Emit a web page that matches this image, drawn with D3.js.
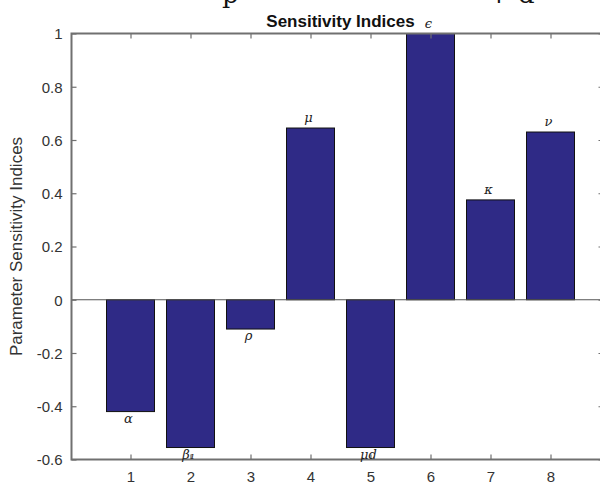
<!DOCTYPE html>
<html>
<head>
<meta charset="utf-8">
<script src="https://cdn.jsdelivr.net/npm/d3@7"></script>
<style>
  body { margin: 0; background: #fff; }
  svg { display: block; }
</style>
</head>
<body>
<div id="chart"></div>
<script>
// parameter index on the x axis
var params = [1, 2, 3, 4, 5, 6, 7, 8];
// sensitivity index of each parameter
var indices = [-0.42, -0.555, -0.11, 0.645, -0.555, 1.0, 0.375, 0.63];
// symbol written at the end of each bar
var symbols = ["α", "β₁", "ρ", "μ", "μd", "ϵ", "κ", "ν"];
var xTicks = [1, 2, 3, 4, 5, 6, 7, 8];
var yTicks = [-0.6, -0.4, -0.2, 0, 0.2, 0.4, 0.6, 0.8, 1];

var width = 600, height = 485;
var svg = d3.select("#chart").append("svg")
    .attr("width", width)
    .attr("height", height);

var x = d3.scaleLinear().domain([0, 9]).range([70.5, 610.5]);
var y = d3.scaleLinear().domain([-0.6, 1]).range([459.5, 33.5]);
var barW = x(0.8) - x(0);

var plotL = 71.5, plotR = 603.5, plotT = y(1), plotB = y(-0.6);
var axisCol = "#707070";

// cut-off text from the page above
svg.append("g")
    .style("font-family", "'DejaVu Serif', 'Liberation Serif', serif")
    .style("font-size", "26px")
    .attr("fill", "#111")
    .selectAll("text")
    .data([["p", 222], ["+ d", 488]])
    .enter().append("text")
    .attr("x", function(d) { return d[1]; })
    .attr("y", 3)
    .text(function(d) { return d[0]; });

// bars
svg.selectAll("rect.bar")
    .data(indices)
    .enter()
    .append("rect")
    .attr("class", "bar")
    .attr("x", function(d, i) { return x(params[i]) - barW / 2; })
    .attr("y", function(d) { return y(Math.max(0, d)); })
    .attr("width", barW)
    .attr("height", function(d) { return Math.abs(y(d) - y(0)); })
    .attr("fill", "#2f2a86")
    .attr("stroke", "#111")
    .attr("stroke-width", 1);

// zero baseline
svg.append("line")
    .attr("x1", plotL).attr("x2", plotR)
    .attr("y1", y(0)).attr("y2", y(0))
    .attr("stroke", "#555").attr("stroke-width", 1);

// frame
svg.append("rect")
    .attr("x", plotL)
    .attr("y", plotT)
    .attr("width", plotR - plotL)
    .attr("height", plotB - plotT)
    .attr("fill", "none")
    .attr("stroke", axisCol)
    .attr("stroke-width", 2);

// axes (ticks pointing inward)
var xAxis = svg.append("g")
    .attr("transform", "translate(0," + plotB + ")")
    .call(d3.axisBottom(x).tickValues(xTicks).tickSizeInner(-5).tickSizeOuter(0).tickPadding(12));
var xAxisTop = svg.append("g")
    .attr("transform", "translate(0," + plotT + ")")
    .call(d3.axisTop(x).tickValues(xTicks).tickSizeInner(-5).tickSizeOuter(0).tickFormat(""));
var yAxis = svg.append("g")
    .attr("transform", "translate(" + plotL + ",0)")
    .call(d3.axisLeft(y).tickValues(yTicks).tickSizeInner(-5).tickSizeOuter(0).tickPadding(9)
        .tickFormat(function(d) { return String(+d.toFixed(1)); }));
var yAxisRight = svg.append("g")
    .attr("transform", "translate(" + plotR + ",0)")
    .call(d3.axisRight(y).tickValues(yTicks).tickSizeInner(-5).tickSizeOuter(0).tickFormat(""));

[xAxis, xAxisTop, yAxis, yAxisRight].forEach(function(g) {
    g.select(".domain").remove();
    g.selectAll(".tick line").attr("stroke", axisCol).attr("stroke-width", 1.2);
    g.selectAll(".tick text")
        .style("font-family", "'Liberation Sans', Arial, sans-serif")
        .style("font-size", "15px")
        .attr("fill", "#333");
});
xAxisTop.selectAll(".tick text").remove();
yAxisRight.selectAll(".tick text").remove();
yAxis.selectAll(".tick text").attr("dy", "0.35em");

// symbol labels at the bar ends
svg.append("g")
    .style("font-family", "'DejaVu Serif', 'Liberation Serif', serif")
    .style("font-style", "italic")
    .style("font-size", "13px")
    .attr("fill", "#222")
    .selectAll("text")
    .data(indices)
    .enter().append("text")
    .attr("text-anchor", "middle")
    .attr("x", function(d, i) { return x(params[i]) - 2; })
    .attr("y", function(d) { return d < 0 ? y(d) + 11 : y(d) - 6; })
    .text(function(d, i) { return symbols[i]; });

// title
svg.append("text")
    .attr("x", (x(0) + x(9)) / 2)
    .attr("y", 27)
    .attr("text-anchor", "middle")
    .style("font-family", "'Liberation Sans', Arial, sans-serif")
    .style("font-size", "17px")
    .style("font-weight", "bold")
    .attr("fill", "#111")
    .text("Sensitivity Indices");

// y label
svg.append("text")
    .attr("transform", "translate(22," + ((plotT + plotB) / 2) + ") rotate(-90)")
    .attr("text-anchor", "middle")
    .style("font-family", "'Liberation Sans', Arial, sans-serif")
    .style("font-size", "17px")
    .attr("fill", "#333")
    .text("Parameter Sensitivity Indices");
</script>
</body>
</html>
